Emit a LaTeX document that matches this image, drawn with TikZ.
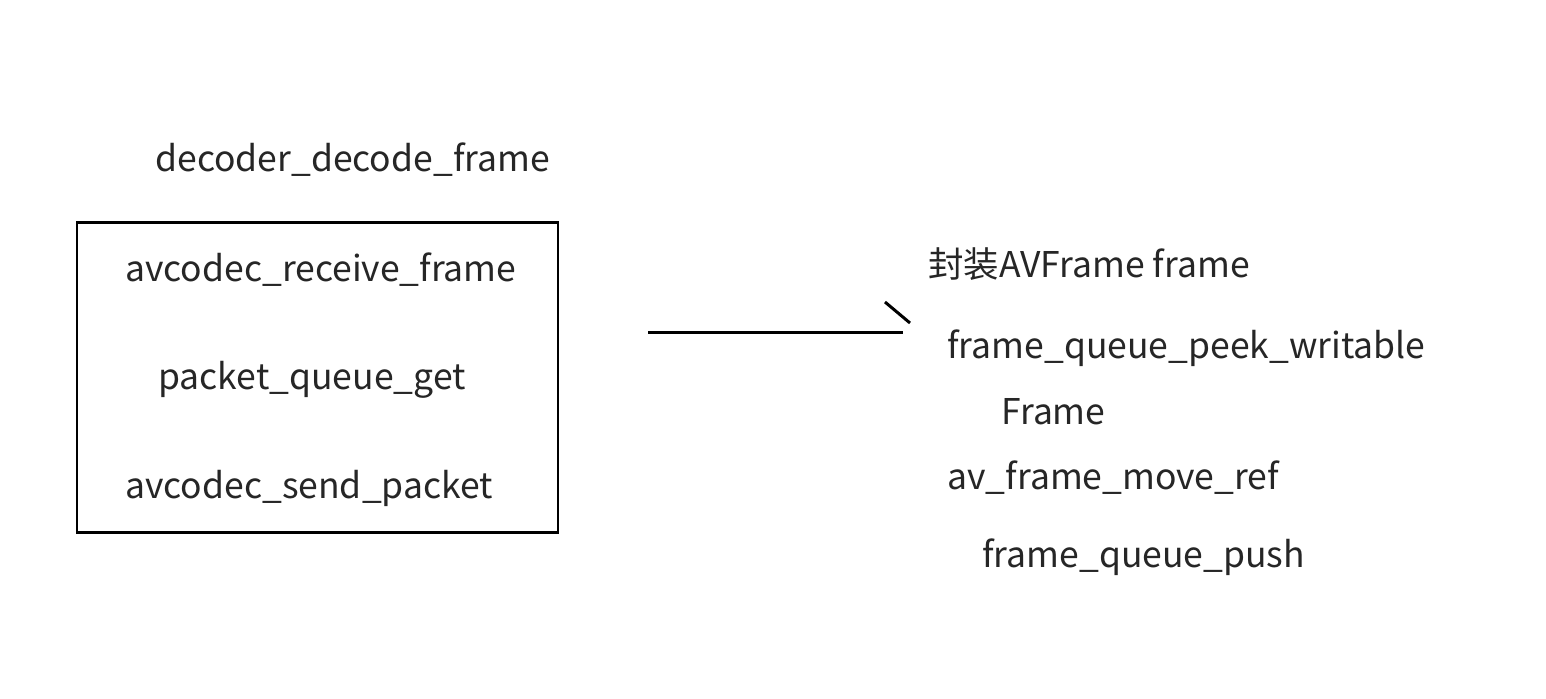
\documentclass[tikz,border=0pt]{standalone}
\usepackage{fontspec}
\setmainfont{Noto Sans CJK SC}
\begin{document}
\begin{tikzpicture}[x=0.02cm,y=-0.02cm,
  lbl/.style={anchor=west,inner sep=0pt,text=black!85,font=\fontsize{20.2}{24}\selectfont},
  stroke/.style={line width=1.7pt,black}]
\useasboundingbox[fill=white] (0,0) rectangle (1546,698);
\node[lbl] (title) at (155,160) {decoder\_decode\_frame};
\draw[stroke] (77,222) rectangle (558,532);
\node[lbl] (recv) at (125,270) {avcodec\_receive\_frame};
\node[lbl] (get) at (158,380) {packet\_queue\_get};
\node[lbl] (send) at (125,488) {avcodec\_send\_packet};
\node[lbl] (wrap) at (928,264) {封装AVFrame frame};
\node[lbl] (peek) at (947,348) {frame\_queue\_peek\_writable};
\node[lbl] (frm) at (1001,412) {Frame};
\node[lbl] (move) at (947,478) {av\_frame\_move\_ref};
\node[lbl] (push) at (982,557) {frame\_queue\_push};
\coordinate (a0) at (648,332);
\coordinate (a1) at (903,332);
\coordinate (t0) at (885,302);
\coordinate (t1) at (910,323);
\draw[stroke] (a0) -- (a1);
\draw[stroke] (t0) -- (t1);
\end{tikzpicture}
\end{document}
